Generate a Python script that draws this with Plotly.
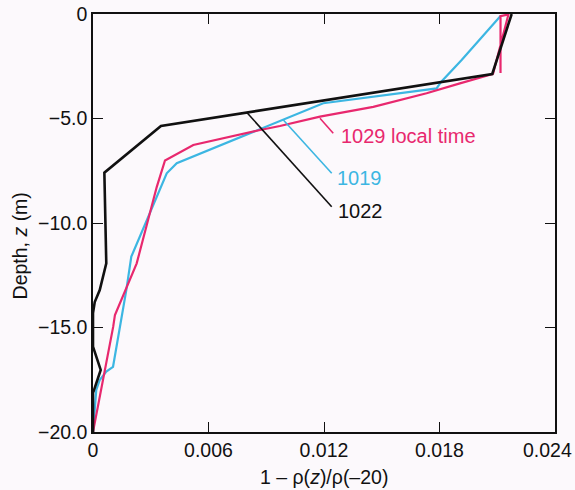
import plotly.graph_objects as go

# ---- data ----
x_1022 = [0.02175, 0.02074, 0.00353, 0.00059, 0.00069, 0.00035, 0.00009, 0.0, 0.0, 0.00040, 0.00009, 0.0, 0.0]
z_1022 = [0.0, -2.87, -5.36, -7.59, -11.93, -13.21, -13.78, -14.31, -15.92, -17.03, -17.89, -18.13, -20.0]

x_1019 = [0.02117, 0.01915, 0.01808, 0.01785, 0.01196, 0.00435, 0.00383, 0.00199, 0.00173, 0.00104, 0.00069, 0.00035, 0.00017, 0.0]
z_1019 = [-0.10, -2.20, -3.25, -3.56, -4.27, -7.14, -7.62, -11.61, -13.21, -16.88, -17.11, -17.51, -17.99, -20.0]

x_1029 = [0.02117, 0.02117, 0.02158, 0.02078, 0.01906, 0.01733, 0.01456, 0.01179, 0.00971, 0.00868, 0.00521, 0.00374, 0.00331, 0.00227, 0.00114, 0.00105, 0.0]
z_1029 = [-2.82, -0.10, -0.02, -2.87, -3.32, -3.79, -4.44, -4.91, -5.36, -5.55, -6.27, -7.01, -8.28, -11.93, -14.40, -14.96, -20.0]

labels = ["1029 local time", "1019", "1022"]
label_x = [0.01280, 0.01256, 0.01260]
label_z = [-5.85, -7.83, -9.41]
leader_from_x = [0.01179, 0.00989, 0.00798]
leader_from_z = [-4.99, -5.07, -4.70]
leader_to_x = [0.01248, 0.01240, 0.01240]
leader_to_z = [-5.71, -7.62, -9.22]

x_ticks = [0, 0.006, 0.012, 0.018, 0.024]
x_ticktext = ["0", "0.006", "0.012", "0.018", "0.024"]
y_ticks = [0, -5, -10, -15, -20]
y_ticktext = ["0", "\u22125.0", "\u221210.0", "\u221215.0", "\u221220.0"]

RED = "#e8286e"
BLUE = "#3cb6e2"
BLACK = "#111111"
BG = "#fcf9fc"
FONT = "Liberation Sans, Arial, sans-serif"
colors = [RED, BLUE, BLACK]

fig = go.Figure()
fig.add_trace(go.Scatter(x=x_1019, y=z_1019, mode="lines", line=dict(color=BLUE, width=2.2), showlegend=False))
fig.add_trace(go.Scatter(x=x_1029, y=z_1029, mode="lines", line=dict(color=RED, width=2.2), showlegend=False))
fig.add_trace(go.Scatter(x=x_1022, y=z_1022, mode="lines", line=dict(color=BLACK, width=2.6), showlegend=False))

for i in range(3):
    fig.add_shape(type="line", x0=leader_from_x[i], y0=leader_from_z[i], x1=leader_to_x[i], y1=leader_to_z[i],
                  xref="x", yref="y", line=dict(color=colors[i], width=1.6))
    fig.add_annotation(x=label_x[i], y=label_z[i], text=labels[i], showarrow=False, xanchor="left", yanchor="middle",
                       font=dict(family=FONT, size=20, color=colors[i]))

fig.add_annotation(x=-0.158, y=0.444, xref="paper", yref="paper", text="Depth, <i>z</i> (m)", textangle=-90,
                   showarrow=False, xanchor="center", yanchor="middle", font=dict(family=FONT, size=19.5, color=BLACK))
fig.add_annotation(x=0.5, y=-0.108, xref="paper", yref="paper", text="1 \u2013 \u03c1(<i>z</i>)/\u03c1(\u201320)",
                   showarrow=False, xanchor="center", yanchor="middle", font=dict(family=FONT, size=19.5, color=BLACK))

# last x tick label sits flush with the right edge of the page (as in the reference)
shown_x_ticktext = x_ticktext[:-1] + [""]
fig.add_annotation(x=1.0415, y=-0.043, xref="paper", yref="paper", text=x_ticktext[-1], showarrow=False,
                   xanchor="right", yanchor="middle", font=dict(family=FONT, size=19.5, color=BLACK))

axis_common = dict(showgrid=False, zeroline=False, showline=True, linecolor=BLACK, linewidth=1.5,
                   ticks="inside", ticklen=10, tickwidth=1.2, tickcolor=BLACK, mirror="ticks",
                   automargin=False, ticklabeloverflow="allow",
                   tickfont=dict(family=FONT, size=19.5, color=BLACK))
fig.update_xaxes(range=[0, 0.024], tickvals=x_ticks, ticktext=shown_x_ticktext, **axis_common)
fig.update_yaxes(range=[-20, 0], tickvals=y_ticks, ticktext=y_ticktext, **axis_common)

fig.update_layout(width=575, height=490, margin=dict(l=93, r=20, t=14, b=58),
                  plot_bgcolor=BG, paper_bgcolor=BG)
fig.write_html("out.html")
